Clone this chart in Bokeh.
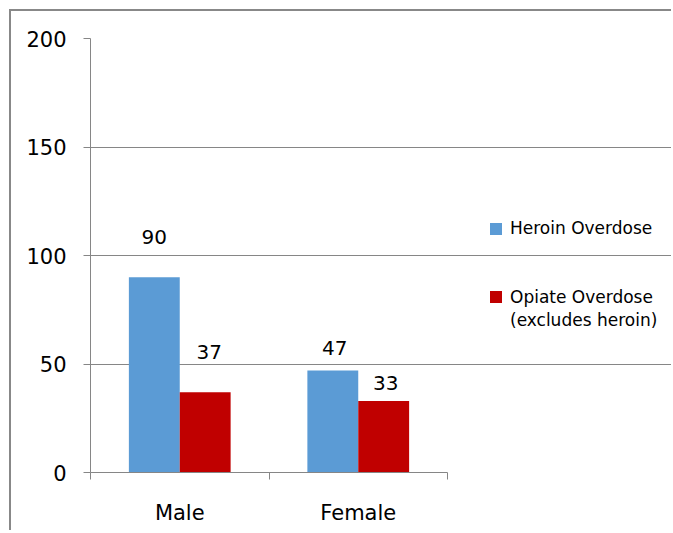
from bokeh.plotting import figure
from bokeh.models import (ColumnDataSource, FixedTicker, LabelSet, Legend, LegendItem, Range1d)
from bokeh.core.properties import value
from bokeh.embed import file_html
from bokeh.resources import INLINE

categories = ["Male", "Female"]
heroin = [90, 47]
opiate = [37, 33]
series_names = ["Heroin Overdose", "Opiate Overdose", "(excludes heroin)"]
y_ticks = [0, 50, 100, 150, 200]

BLUE = "#5B9BD5"
RED = "#C00000"
GRID = "#868686"
FONT = "DejaVu Sans"

# layout in pixels
W, H = 662, 521
LEFT, TOP, BOTTOM = 79, 27, 60
CAT_PX = 178.5
frame_w = W - LEFT
x_end = frame_w / CAT_PX

x_center = [i + 0.5 for i in range(len(categories))]
bw = 0.285
off = 0.1425

src_h = ColumnDataSource(dict(x=[c - off for c in x_center], top=heroin,
                              txt=[str(v) for v in heroin], dy=[40, 23], dx=[0, 2]))
src_o = ColumnDataSource(dict(x=[c + off for c in x_center], top=opiate,
                              txt=[str(v) for v in opiate], dy=[40, 18], dx=[4, 2]))

p = figure(width=W, height=H, output_backend="svg", toolbar_location=None,
           x_range=Range1d(0, x_end), y_range=Range1d(0, 200),
           min_border_left=LEFT, min_border_right=0, min_border_top=TOP, min_border_bottom=BOTTOM)
p.styles = {"margin-left": "9px", "margin-top": "9px",
            "border-left": "2px solid #888888", "border-top": "2px solid #888888"}
p.outline_line_color = None
p.background_fill_color = "white"

rh = p.vbar(x="x", top="top", width=bw, source=src_h, fill_color=BLUE, line_color=None)
ro = p.vbar(x="x", top="top", width=bw, source=src_o, fill_color=RED, line_color=None)
ghost = p.vbar(x=[], top=[], width=bw, fill_color=None, line_color=None)

for src in (src_h, src_o):
    p.add_layout(LabelSet(x="x", y="top", text="txt", x_offset="dx", y_offset="dy", source=src,
                          text_align="center", text_baseline="middle",
                          text_font=value(FONT), text_font_size="20px", text_color="black"))

n = len(categories)
# y axis
p.yaxis.ticker = FixedTicker(ticks=y_ticks)
p.yaxis.axis_line_color = GRID
p.yaxis.major_tick_line_color = GRID
p.yaxis.major_tick_in = 0
p.yaxis.major_tick_out = 7
p.yaxis.minor_tick_line_color = None
p.yaxis.major_label_standoff = 17
p.yaxis.major_label_text_font = FONT
p.yaxis.major_label_text_font_size = "21px"
p.yaxis.major_label_text_color = "black"

# x axis
p.xaxis.bounds = (0, n)
p.xaxis.ticker = FixedTicker(ticks=x_center, minor_ticks=list(range(n + 1)))
p.xaxis.major_label_overrides = {x: c for x, c in zip(x_center, categories)}
p.xaxis.axis_line_color = GRID
p.xaxis.major_tick_line_color = None
p.xaxis.major_tick_out = 0
p.xaxis.minor_tick_line_color = GRID
p.xaxis.minor_tick_in = 0
p.xaxis.minor_tick_out = 7
p.xaxis.major_label_standoff = 21
p.xaxis.major_label_text_font = FONT
p.xaxis.major_label_text_font_size = "21px"
p.xaxis.major_label_text_color = "black"

p.xgrid.grid_line_color = None
p.ygrid.ticker = FixedTicker(ticks=y_ticks)
p.ygrid.bounds = (0, n)
p.ygrid.grid_line_color = GRID

def mk_legend(items, loc, label_h):
    lg = Legend(items=items, location=loc, padding=0, margin=0, spacing=0,
                border_line_color=None, background_fill_alpha=0,
                glyph_width=15, glyph_height=15, label_standoff=7, label_height=label_h,
                label_text_font=FONT, label_text_font_size="17px", label_text_color="black")
    p.add_layout(lg, "center")
    return lg

mk_legend([LegendItem(label=series_names[0], renderers=[rh])], (398, 234), 20)
mk_legend([LegendItem(label=series_names[1], renderers=[ro]),
           LegendItem(label=series_names[2], renderers=[ghost])], (398, 141), 23)

open("out.html", "w").write(file_html(p, INLINE))
